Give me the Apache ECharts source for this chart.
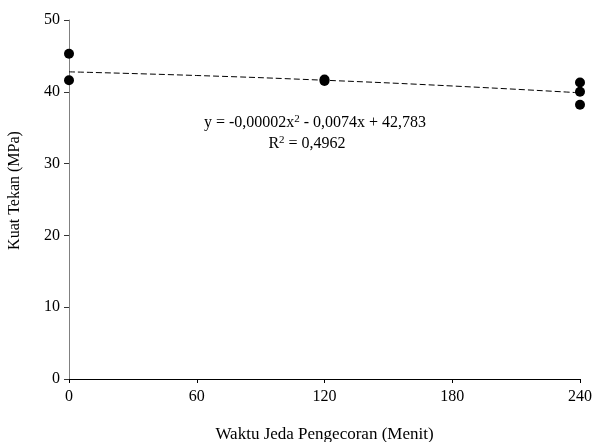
<!DOCTYPE html>
<html><head><meta charset="utf-8">
<script src="https://cdn.jsdelivr.net/npm/echarts@6/dist/echarts.min.js"></script>
<style>html,body{margin:0;padding:0;background:#fff}#c{width:594px;height:442px}</style>
</head><body><div id="c"></div>
<script>
const xTicks = [0, 60, 120, 180, 240];
const obsX = [0, 0, 120, 120, 240, 240, 240];
const obsY = [45.3, 41.6, 41.7, 41.5, 41.3, 40.0, 38.2];
const trendX = [0, 60, 120, 180, 240];
const trendY = [42.78, 42.27, 41.61, 40.81, 39.86];

const F = 'Liberation Serif, Times New Roman, serif';
const chart = echarts.init(document.getElementById('c'));
chart.setOption({
  animation: false,
  backgroundColor: '#fff',
  grid: {left: 69, right: 14, top: 20, bottom: 63, outerBoundsMode: 'none', containLabel: false},
  xAxis: {
    type: 'value', min: 0, max: 240, interval: 60,
    name: 'Waktu Jeda Pengecoran (Menit)', nameLocation: 'middle', nameGap: 47,
    nameTextStyle: {fontFamily: F, fontSize: 17, color: '#000'},
    axisLine: {show: true, onZero: false, lineStyle: {color: '#000', width: 1}},
    axisTick: {show: true, length: 4, lineStyle: {color: '#000'}},
    axisLabel: {fontFamily: F, fontSize: 16, color: '#000', margin: 10},
    splitLine: {show: false}
  },
  yAxis: {
    type: 'value', min: 0, max: 50, interval: 10,
    name: 'Kuat Tekan (MPa)', nameLocation: 'middle', nameGap: 46,
    nameTextStyle: {fontFamily: F, fontSize: 16, color: '#000', padding: [0, 0, 0, 18]},
    axisLine: {show: true, lineStyle: {color: '#808080', width: 1}},
    axisTick: {show: true, length: 5, lineStyle: {color: '#333'}},
    axisLabel: {fontFamily: F, fontSize: 16, color: '#000', margin: 9},
    splitLine: {show: false}
  },
  series: [
    {
      type: 'line', data: trendX.map((x, i) => [x, trendY[i]]),
      smooth: true, showSymbol: false, symbol: 'none',
      lineStyle: {color: '#000', width: 1, type: [6, 3]}, z: 1
    },
    {
      type: 'scatter', data: obsX.map((x, i) => [x, obsY[i]]),
      symbol: 'circle', symbolSize: 10, itemStyle: {color: '#000', opacity: 1}, z: 3
    }
  ],
  graphic: [
    {type: 'text', x: 315, y: 123, style: {
      text: '{n|y = -0,00002x}{s|2}{n| - 0,0074x + 42,783}', align: 'center', verticalAlign: 'middle',
      rich: {n: {fontFamily: F, fontSize: 16, fill: '#000'}, s: {fontFamily: F, fontSize: 11, fill: '#000', verticalAlign: 'top', padding: [0,0,7,0]}}
    }},
    {type: 'text', x: 307, y: 144, style: {
      text: '{n|R}{s|2}{n| = 0,4962}', align: 'center', verticalAlign: 'middle',
      rich: {n: {fontFamily: F, fontSize: 16, fill: '#000'}, s: {fontFamily: F, fontSize: 11, fill: '#000', verticalAlign: 'top', padding: [0,0,7,0]}}
    }}
  ]
});
</script></body></html>
